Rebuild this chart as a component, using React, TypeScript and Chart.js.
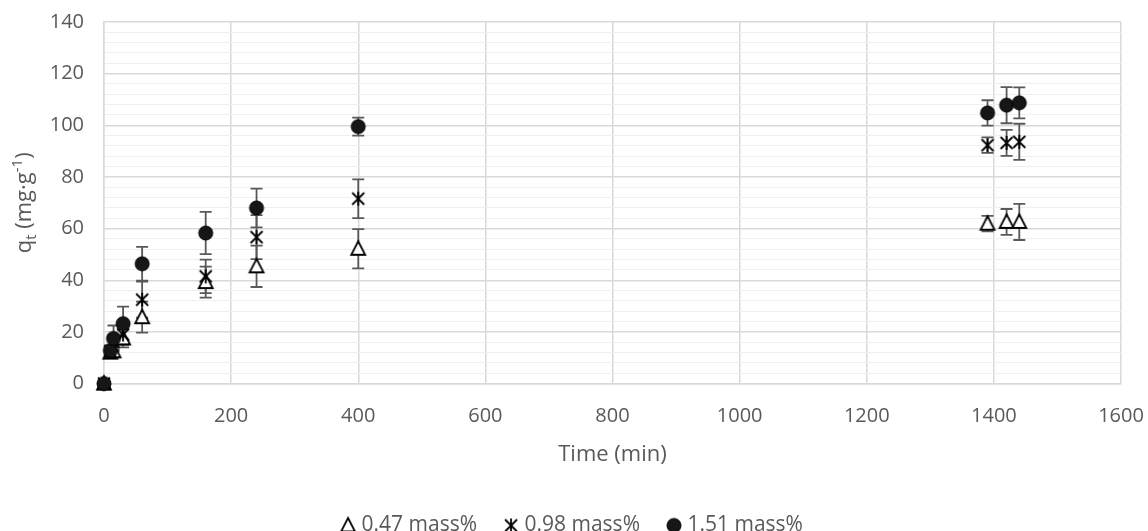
import React, { useEffect, useRef } from 'react';
import { Chart, registerables } from 'chart.js';

Chart.register(...registerables);

// Sampling times (min)
const timeMin = [0, 10, 15, 30, 60, 160, 240, 400, 1390, 1420, 1440];

// Adsorbed amount q_t (mg/g) and standard deviations per loading
const q047 = [0, 12.0, 12.5, 17.5, 25.7, 39.3, 45.4, 52.2, 61.9, 62.6, 62.6];
const sd047 = [0, 1.5, 2.0, 3.5, 6.0, 6.0, 8.0, 7.6, 3.0, 5.0, 7.0];

const q098 = [0, 12.5, 16.0, 19.0, 32.5, 41.5, 56.7, 71.6, 92.3, 93.2, 93.6];
const sd098 = [0, 2.0, 3.0, 4.0, 7.0, 6.5, 8.5, 7.5, 3.0, 5.0, 7.0];

const q151 = [0, 12.8, 17.5, 23.2, 46.4, 58.3, 68.0, 99.5, 104.8, 107.8, 108.7];
const sd151 = [0, 2.0, 5.0, 6.6, 6.5, 8.2, 7.5, 3.5, 4.9, 7.0, 6.0];

const seriesLabels = ['0.47 mass%', '0.98 mass%', '1.51 mass%'];

const xTickValues = [0, 200, 400, 600, 800, 1000, 1200, 1400, 1600];
const yTickValues = [0, 20, 40, 60, 80, 100, 120, 140];
const yMinorStep = 4;

const FONT = "'Open Sans', 'Noto Sans', sans-serif";
const TEXT = '#595959';
const GRID_MAJOR = '#d9d9d9';
const GRID_MINOR = '#efefef';
const ERR = '#595959';

type MarkerKind = 'triangle' | 'asterisk' | 'circle';

function makeMarker(kind: MarkerKind): HTMLCanvasElement {
  const size = 20;
  const c = document.createElement('canvas');
  c.width = size;
  c.height = size;
  const g = c.getContext('2d')!;
  g.translate(size / 2, size / 2);
  g.strokeStyle = '#000';
  if (kind === 'triangle') {
    g.beginPath();
    g.moveTo(0, -7.5);
    g.lineTo(7, 6);
    g.lineTo(-7, 6);
    g.closePath();
    g.fillStyle = '#fff';
    g.fill();
    g.lineWidth = 1.8;
    g.lineJoin = 'miter';
    g.stroke();
  } else if (kind === 'asterisk') {
    g.lineWidth = 1.8;
    g.beginPath();
    g.moveTo(-6, -6);
    g.lineTo(6, 6);
    g.moveTo(6, -6);
    g.lineTo(-6, 6);
    g.moveTo(0, -7);
    g.lineTo(0, 7);
    g.stroke();
  } else {
    g.beginPath();
    g.arc(0, 0, 7, 0, Math.PI * 2);
    g.fillStyle = '#161616';
    g.fill();
    g.lineWidth = 1;
    g.stroke();
  }
  return c;
}

// Vertical error bars with caps, drawn beneath the markers
const errorBarPlugin = {
  id: 'errorBars',
  beforeDatasetsDraw(chart: any) {
    const { ctx, scales } = chart;
    const xs = scales.x;
    const ys = scales.y;
    ctx.save();
    ctx.strokeStyle = ERR;
    ctx.lineWidth = 1.8;
    chart.data.datasets.forEach((ds: any) => {
      const errs: number[] = ds.errors || [];
      ds.data.forEach((p: any, i: number) => {
        const e = errs[i];
        if (!e) return;
        const x = xs.getPixelForValue(p.x);
        const yTop = ys.getPixelForValue(p.y + e);
        const yBot = ys.getPixelForValue(p.y - e);
        const cap = 6;
        ctx.beginPath();
        ctx.moveTo(x, yTop);
        ctx.lineTo(x, yBot);
        ctx.moveTo(x - cap, yTop);
        ctx.lineTo(x + cap, yTop);
        ctx.moveTo(x - cap, yBot);
        ctx.lineTo(x + cap, yBot);
        ctx.stroke();
      });
    });
    ctx.restore();
  },
};

// Rotated y-axis title with subscript and superscript parts
const yTitlePlugin = {
  id: 'yTitle',
  afterDraw(chart: any) {
    const { ctx, chartArea } = chart;
    const base = 22;
    const small = 15;
    const parts = [
      { t: 'q', size: base, dy: 0 },
      { t: 't', size: small, dy: 5 },
      { t: ' (mg·g', size: base, dy: 0 },
      { t: '-1', size: small, dy: -9 },
      { t: ')', size: base, dy: 0 },
    ];
    ctx.save();
    let total = 0;
    const widths = parts.map((p) => {
      ctx.font = `${p.size}px ${FONT}`;
      const w = ctx.measureText(p.t).width;
      total += w;
      return w;
    });
    const cy = (chartArea.top + chartArea.bottom) / 2;
    ctx.translate(31, cy);
    ctx.rotate(-Math.PI / 2);
    ctx.fillStyle = TEXT;
    ctx.textBaseline = 'alphabetic';
    ctx.textAlign = 'left';
    let x = -total / 2;
    parts.forEach((p, i) => {
      ctx.font = `${p.size}px ${FONT}`;
      ctx.fillText(p.t, x, p.dy);
      x += widths[i];
    });
    ctx.restore();
  },
};

export default function App() {
  const canvasRef = useRef<HTMLCanvasElement | null>(null);

  useEffect(() => {
    if (!canvasRef.current) return;
    const markers: MarkerKind[] = ['triangle', 'asterisk', 'circle'];
    const values = [q047, q098, q151];
    const errors = [sd047, sd098, sd151];
    const drawOrder = [2, 1, 0];

    const datasets = values.map((vals, s) => {
      const img = makeMarker(markers[s]);
      return {
        label: seriesLabels[s],
        data: timeMin.map((t, i) => ({ x: t, y: vals[i] })),
        errors: errors[s],
        pointStyle: img,
        pointRadius: 7,
        pointHoverRadius: 7,
        showLine: false,
        clip: false as const,
        order: drawOrder[s],
        backgroundColor: '#000',
        borderColor: '#000',
      };
    });

    const chart = new Chart(canvasRef.current, {
      type: 'scatter',
      data: { datasets } as any,
      plugins: [errorBarPlugin, yTitlePlugin],
      options: {
        animation: false,
        responsive: true,
        maintainAspectRatio: false,
        layout: { padding: { left: 0, right: 0, top: 22, bottom: -15 } },
        font: { family: FONT },
        plugins: {
          tooltip: { enabled: false },
          legend: {
            position: 'bottom',
            labels: {
              usePointStyle: true,
              boxWidth: 6,
              boxHeight: 10,
              padding: 31,
              color: TEXT,
              font: { family: FONT, size: 21 },
              sort: (a: any, b: any) => a.datasetIndex - b.datasetIndex,
            },
          },
        },
        scales: {
          x: {
            type: 'linear',
            min: 0,
            max: 1600,
            afterBuildTicks: (scale: any) => {
              scale.ticks = xTickValues.map((v) => ({ value: v }));
            },
            afterFit: (scale: any) => {
              scale.paddingLeft = 0;
              scale.paddingRight = 0;
            },
            ticks: {
              color: TEXT,
              font: { family: FONT, size: 20, lineHeight: 1 },
              padding: 23,
              autoSkip: false,
              maxRotation: 0,
              callback: (v: any) => String(v),
            },
            grid: { color: GRID_MAJOR, lineWidth: 1.5, drawTicks: false },
            border: { color: GRID_MAJOR, width: 1.5 },
            title: {
              display: true,
              text: 'Time (min)',
              color: TEXT,
              font: { family: FONT, size: 22 },
              padding: { top: -8, bottom: 16 },
            },
          },
          y: {
            type: 'linear',
            min: 0,
            max: 140,
            afterBuildTicks: (scale: any) => {
              const ticks: { value: number }[] = [];
              for (let v = yTickValues[0]; v <= yTickValues[yTickValues.length - 1]; v += yMinorStep) {
                ticks.push({ value: v });
              }
              scale.ticks = ticks;
            },
            afterFit: (scale: any) => {
              scale.width = 104;
              scale.paddingTop = 0;
              scale.paddingBottom = 0;
            },
            ticks: {
              color: TEXT,
              font: { family: FONT, size: 20 },
              padding: 20,
              autoSkip: false,
              callback: (v: any) => (yTickValues.includes(Number(v)) ? String(v) : ''),
            },
            grid: {
              color: (ctx: any) => (yTickValues.includes(ctx.tick?.value) ? GRID_MAJOR : GRID_MINOR),
              lineWidth: (ctx: any) => (yTickValues.includes(ctx.tick?.value) ? 1.5 : 1),
              drawTicks: false,
            },
            border: { color: GRID_MAJOR, width: 1.5 },
          },
          // empty right-hand gutter so the plot ends short of the canvas edge
          gutter: {
            type: 'linear',
            position: 'right',
            display: true,
            ticks: { display: false },
            grid: { display: false, drawOnChartArea: false, drawTicks: false },
            border: { display: false },
            afterFit: (scale: any) => {
              scale.width = 27;
              scale.paddingTop = 0;
              scale.paddingBottom = 0;
            },
          },
        },
      } as any,
    });

    return () => chart.destroy();
  }, []);

  return (
    <div style={{ position: 'fixed', left: 0, top: 0, width: 1148, height: 531, background: '#fff' }}>
      <canvas ref={canvasRef} />
    </div>
  );
}
